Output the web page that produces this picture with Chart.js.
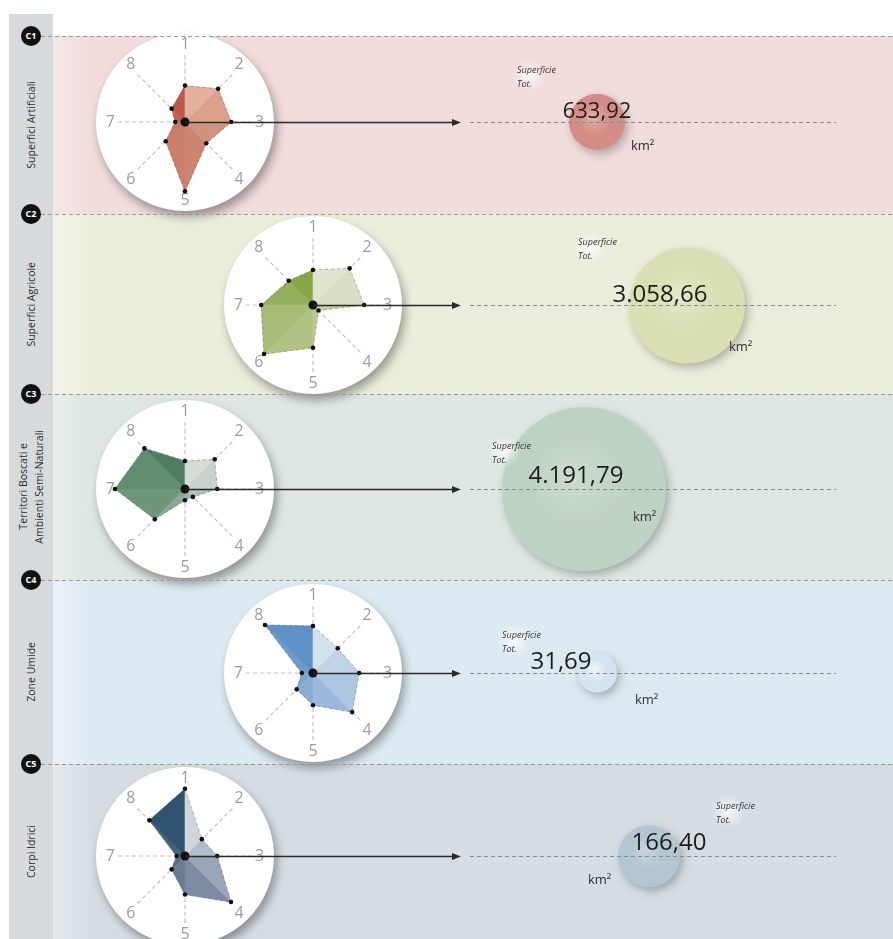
<!DOCTYPE html>
<html lang="it">
<head>
    <meta charset="UTF-8">
    <title>Classi di uso del suolo</title>
    <style>
        body {
            margin: 0;
            width: 893px;
            height: 939px;
            overflow: hidden;
            position: relative;
            background: #fff;
            font-family: 'Open Sans', sans-serif;
        }

        .strip {
            position: absolute;
            left: 9px;
            top: 14px;
            width: 44px;
            bottom: 0;
            background: #d7dadd;
        }

        .band {
            position: absolute;
            left: 53px;
            right: 0;
        }

        .side-label {
            position: absolute;
            left: 9px;
            width: 46px;
            display: flex;
            align-items: center;
            justify-content: center;
        }

        .side-label span {
            writing-mode: vertical-rl;
            transform: rotate(180deg);
            font-size: 10.5px;
            line-height: 1.5;
            color: #2e2e2e;
            text-align: center;
            white-space: nowrap;
        }

        .badge {
            position: absolute;
            width: 20px;
            height: 20px;
            border-radius: 50%;
            background: #111;
            color: #fff;
            font-size: 9px;
            font-weight: 700;
            line-height: 20px;
            text-align: center;
        }

        .disc {
            position: absolute;
            border-radius: 50%;
            background: #fff;
            box-shadow: 3px 6px 10px rgba(0, 0, 0, 0.35);
        }

        .radar {
            position: absolute;
        }

        #overlay {
            position: absolute;
            left: 0;
            top: 0;
            pointer-events: none;
        }
    </style>
</head>
<body>
    <div id="stage"></div>
    <canvas id="overlay" width="893" height="948"></canvas>

    <script src="https://cdn.jsdelivr.net/npm/chart.js@4.4.0/dist/chart.umd.min.js"></script>
    <script>
        // classi e nomi
        const classes = ['C1', 'C2', 'C3', 'C4', 'C5']
        const classNames = [
            ['Superfici Artificiali'],
            ['Superfici Agricole'],
            ['Territori Boscati e', 'Ambienti Semi-Naturali'],
            ['Zone Umide'],
            ['Corpi Idrici'],
        ]

        // assi del radar (1 in alto, senso orario)
        const axisLabels = ['1', '2', '3', '4', '5', '6', '7', '8']

        // valori radar per classe (scala 0-10)
        const radarC1 = [5.2, 6.7, 6.6, 4.3, 9.9, 3.9, 1.4, 2.7]
        const radarC2 = [5.0, 7.4, 7.3, 1.1, 6.1, 9.9, 7.4, 4.9]
        const radarC3 = [4.0, 6.0, 4.6, 1.6, 1.6, 6.1, 10, 8.2]
        const radarC4 = [6.7, 5.0, 6.6, 7.9, 4.6, 3.3, 1.6, 9.7]
        const radarC5 = [9.6, 3.4, 4.6, 9.3, 5.5, 2.7, 1.2, 7.2]

        // superficie totale (km²)
        const areaKm2 = [633.92, 3058.66, 4191.79, 31.69, 166.40]
        const areaText = ['633,92', '3.058,66', '4.191,79', '31,69', '166,40']
    </script>

    <script>
        // ---- layout (posizioni e stili, separati dai dati) ----
        const bandEdges = [36, 214, 394, 580, 764, 939]
        const bandColors = ['#f1dbdb', '#e9eedb', '#dde6e1', '#dde9f1', '#d5dde3']
        const radarX = [185, 313, 185, 313, 185]
        const radarSize = 172

        // bolle: posizione x (px) e raggio
        const bubbleLayout = [
            { x: 597, r: 28 },
            { x: 687, r: 58 },
            { x: 584, r: 82 },
            { x: 597, r: 20 },
            { x: 649, r: 31 },
        ]
        const bubbleColors = [
            ['#e2aaa4', '#d48c86'],
            ['#e3e7c6', '#d9deb3'],
            ['#cbdbce', '#bed2c3'],
            ['#f0f5fa', '#d3e3f0'],
            ['#c4d3dc', '#b2c5d0'],
        ]

        // testi vicino alle bolle
        const textLayout = [
            { sup: [517, 70], val: [597, 112], size: 22, km: [631, 146] },
            { sup: [578, 242], val: [660, 295], size: 24, km: [729, 347] },
            { sup: [492, 446], val: [576, 476], size: 24, km: [633, 517] },
            { sup: [502, 635], val: [561, 662], size: 24, km: [635, 700] },
            { sup: [716, 806], val: [669, 843], size: 24, km: [588, 880] },
        ]

        // colori dei settori (da asse k ad asse k+1)
        const sectorColors = [
            ['#e4af9e', '#dca08c', '#d3927f', '#cd8572', '#c97f6c', '#c77a66', '#bf6350', '#b95a48'],
            ['#dfe3cf', '#d9dfc4', '#c5d1a5', '#b9ca92', '#b0c385', '#a7bc76', '#94b05e', '#86a544'],
            ['#d6dbd6', '#c9d1cb', '#b1c2b6', '#9cb5a3', '#8aa894', '#6f957b', '#628d71', '#4f7d60'],
            ['#d3e0ee', '#c0d3e8', '#adc6e2', '#9cb9db', '#8aadd4', '#7ea5d0', '#6d9acb', '#5f90c6'],
            ['#d0d5dd', '#b3bccb', '#9aa5b8', '#7f8ba3', '#6c7a94', '#5b6b87', '#476079', '#2f5370'],
        ]
    </script>

    <script>
        const radarSets = [radarC1, radarC2, radarC3, radarC4, radarC5]

        // triangolo del settore k: solo i valori k e k+1, il resto al centro
        function sectorData(vals, k) {
            const next = (k + 1) % vals.length
            return vals.map((v, i) => (i === k || i === next) ? v : 0)
        }

        // punto nero centrale del radar
        const centerDot = {
            id: 'centerDot',
            afterDatasetsDraw(chart) {
                const s = chart.scales.r
                const c = chart.ctx
                c.save()
                c.beginPath()
                c.arc(s.xCenter, s.yCenter, 4.5, 0, Math.PI * 2)
                c.fillStyle = '#111'
                c.fill()
                c.restore()
            }
        }

        // grafico sovrapposto: bolle, frecce, linee tratteggiate e testi
        const decor = {
            id: 'decor',
            beforeDatasetsDraw(chart) {
                const c = chart.ctx
                const y = chart.scales.y
                c.save()
                // separatori tra le fasce
                c.strokeStyle = '#9a9a9a'
                c.lineWidth = 1
                c.setLineDash([4, 3])
                for (let i = 0; i < 5; i++) {
                    c.beginPath()
                    c.moveTo(41, bandEdges[i] + 0.5)
                    c.lineTo(893, bandEdges[i] + 0.5)
                    c.stroke()
                }
                // frecce dal centro del radar
                c.setLineDash([])
                c.strokeStyle = '#2a2a2a'
                c.fillStyle = '#2a2a2a'
                c.lineWidth = 1.4
                classes.forEach((cl, i) => {
                    const cy = Math.round(y.getPixelForValue(i)) + 0.5
                    c.beginPath()
                    c.moveTo(radarX[i], cy)
                    c.lineTo(454, cy)
                    c.stroke()
                    c.beginPath()
                    c.moveTo(461, cy)
                    c.lineTo(452, cy - 3.5)
                    c.lineTo(452, cy + 3.5)
                    c.closePath()
                    c.fill()
                })
                c.restore()
            },
            beforeDatasetDraw(chart) {
                const c = chart.ctx
                c.save()
                c.shadowColor = 'rgba(0,0,0,0.25)'
                c.shadowBlur = 9
                c.shadowOffsetX = 3
                c.shadowOffsetY = 4
            },
            afterDatasetDraw(chart) {
                chart.ctx.restore()
            },
            afterDatasetsDraw(chart) {
                const c = chart.ctx
                const y = chart.scales.y
                c.save()
                classes.forEach((cl, i) => {
                    const cy = Math.round(y.getPixelForValue(i)) + 0.5
                    // linea tratteggiata
                    c.strokeStyle = '#8a8a8a'
                    c.lineWidth = 1
                    c.setLineDash([4, 3])
                    c.beginPath()
                    c.moveTo(470, cy)
                    c.lineTo(836, cy)
                    c.stroke()
                    c.setLineDash([])

                    const t = textLayout[i]
                    // alone bianco dietro "Superficie Tot."
                    const gx = t.sup[0] + 12, gy = t.sup[1] + 5
                    const g = c.createRadialGradient(gx, gy, 2, gx, gy, 17)
                    g.addColorStop(0, 'rgba(255,255,255,0.7)')
                    g.addColorStop(1, 'rgba(255,255,255,0)')
                    c.fillStyle = g
                    c.beginPath()
                    c.arc(gx, gy, 17, 0, Math.PI * 2)
                    c.fill()

                    c.fillStyle = '#333'
                    c.textAlign = 'left'
                    c.textBaseline = 'middle'
                    c.font = 'italic 9px "Open Sans"'
                    c.fillText('Superficie', t.sup[0], t.sup[1])
                    c.fillText('Tot.', t.sup[0], t.sup[1] + 14)

                    c.fillStyle = '#1c1c1c'
                    c.textAlign = 'center'
                    c.font = t.size + 'px "Open Sans"'
                    c.fillText(areaText[i], t.val[0], t.val[1])

                    c.fillStyle = '#2e2e2e'
                    c.textAlign = 'left'
                    c.font = '13px "Open Sans"'
                    c.fillText('km²', t.km[0], t.km[1])
                })
                c.restore()
            }
        }

        const overlay = new Chart(document.querySelector('#overlay'), {
            type: 'bubble',
            data: {
                datasets: [
                    {
                        label: 'Superficie Tot. (km²)',
                        data: classes.map((cl, i) => ({ x: bubbleLayout[i].x, y: cl, r: bubbleLayout[i].r, v: areaKm2[i] })),
                        borderWidth: 0,
                        clip: false,
                        backgroundColor: (ctx) => {
                            const i = ctx.dataIndex
                            if (ctx.type !== 'data' || !ctx.raw) return bubbleColors[0][1]
                            const chart = ctx.chart
                            const x = chart.scales.x.getPixelForValue(ctx.raw.x)
                            const y = chart.scales.y.getPixelForValue(i)
                            const r = ctx.raw.r
                            if (!isFinite(x) || !isFinite(y)) return bubbleColors[i][1]
                            const g = chart.ctx.createRadialGradient(x - r * 0.15, y - r * 0.2, r * 0.05, x, y, r)
                            g.addColorStop(0, bubbleColors[i][0])
                            g.addColorStop(0.55, bubbleColors[i][1])
                            g.addColorStop(1, bubbleColors[i][1])
                            return g
                        },
                    },
                ],
            },
            options: {
                responsive: false,
                animation: false,
                layout: { autoPadding: false, padding: { top: 30, left: 0, right: 0, bottom: 0 } },
                plugins: { legend: { display: false }, tooltip: { enabled: false } },
                scales: {
                    x: { type: 'linear', min: 0, max: 893, display: false },
                    y: { type: 'category', labels: classes, offset: true, display: false },
                },
            },
            plugins: [decor],
        })

        // fasce e etichette laterali
        const stage = document.querySelector('#stage')
        const strip = document.createElement('div')
        strip.className = 'strip'
        stage.appendChild(strip)

        classes.forEach((cl, i) => {
            const top = bandEdges[i]
            const h = bandEdges[i + 1] - top

            const band = document.createElement('div')
            band.className = 'band'
            band.style.top = top + 'px'
            band.style.height = h + 'px'
            band.style.background = 'linear-gradient(to right, rgba(255,255,255,0.35), rgba(255,255,255,0) 40px), ' + bandColors[i]
            stage.appendChild(band)

            const lab = document.createElement('div')
            lab.className = 'side-label'
            lab.style.top = top + 'px'
            lab.style.height = h + 'px'
            lab.innerHTML = '<span>' + classNames[i].join('<br>') + '</span>'
            stage.appendChild(lab)

            const badge = document.createElement('div')
            badge.className = 'badge'
            badge.textContent = cl
            badge.style.left = '21px'
            badge.style.top = (top - 10) + 'px'
            stage.appendChild(badge)
        })

        // dischi bianchi e radar
        classes.forEach((cl, i) => {
            const cx = radarX[i]
            const cy = Math.round(overlay.scales.y.getPixelForValue(i))

            const disc = document.createElement('div')
            disc.className = 'disc'
            disc.style.left = (cx - 89) + 'px'
            disc.style.top = (cy - 89) + 'px'
            disc.style.width = '178px'
            disc.style.height = '178px'
            stage.appendChild(disc)

            const cv = document.createElement('canvas')
            cv.className = 'radar'
            cv.width = radarSize
            cv.height = radarSize
            cv.style.left = (cx - radarSize / 2) + 'px'
            cv.style.top = (cy - radarSize / 2) + 'px'
            stage.appendChild(cv)

            const vals = radarSets[i]
            const datasets = [
                {
                    label: cl,
                    data: vals,
                    fill: false,
                    order: 0,
                    borderColor: 'rgba(70,70,70,0.45)',
                    borderWidth: 0.8,
                    borderDash: [3, 3],
                    pointRadius: 2.3,
                    pointBorderWidth: 0,
                    pointBackgroundColor: '#111',
                },
            ]
            axisLabels.forEach((a, k) => {
                datasets.push({
                    label: cl + ' settore ' + a,
                    data: sectorData(vals, k),
                    fill: 'origin',
                    order: 1,
                    backgroundColor: sectorColors[i][k],
                    borderColor: sectorColors[i][k],
                    borderWidth: 0.6,
                    pointRadius: 0,
                })
            })

            new Chart(cv, {
                type: 'radar',
                data: { labels: axisLabels, datasets: datasets },
                options: {
                    responsive: false,
                    animation: false,
                    layout: { padding: 0 },
                    plugins: { legend: { display: false }, tooltip: { enabled: false } },
                    elements: { line: { tension: 0 } },
                    scales: {
                        r: {
                            min: 0,
                            max: 10,
                            ticks: { display: false },
                            grid: { display: false },
                            angleLines: { color: '#c2c2c2', lineWidth: 1.2, borderDash: [4, 3] },
                            pointLabels: {
                                color: '#9c9c9c',
                                padding: 0,
                                font: { size: 16, family: 'Open Sans', lineHeight: 1 },
                            },
                        },
                    },
                },
                plugins: [centerDot],
            })
        })
    </script>
</body>
</html>
